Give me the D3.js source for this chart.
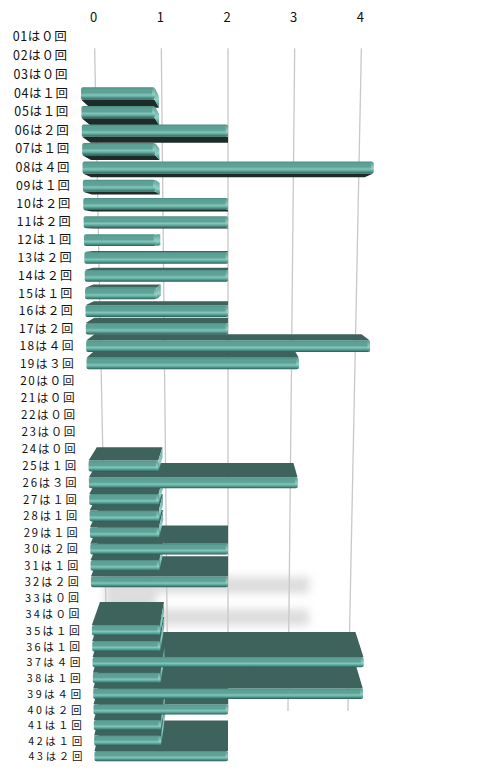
<!DOCTYPE html>
<html>
<head>
<meta charset="utf-8">
<script src="https://cdn.jsdelivr.net/npm/d3@7"></script>
<style>
    html, body { margin: 0; padding: 0; background: #fff; }
    svg { display: block; }
    text { font-family: "Noto Sans CJK JP", "Noto Sans", sans-serif; fill: #111; }
</style>
</head>
<body>
<svg id="chart" width="493" height="777"></svg>
<script>
// 01..43 and how many times each came up
const numbers = d3.range(1, 44).map(n => String(n).padStart(2, '0'));
const counts  = [0, 0, 0, 1, 1, 2, 1, 4, 1, 2,
                 2, 1, 2, 2, 1, 2, 2, 4, 3, 0,
                 0, 0, 0, 0, 1, 3, 1, 1, 1, 2,
                 1, 2, 0, 0, 1, 1, 4, 1, 4, 2,
                 1, 1, 2];
const ticks   = [0, 1, 2, 3, 4];
const zenkaku = ['０', '１', '２', '３', '４', '５', '６', '７', '８', '９'];
const shadowRows = [34, 35, 36, 37, 38];

const svg = d3.select('#chart');

// front plane scales (row 0), perspective squeezes them further down
const x  = d3.scaleLinear().domain([0, 4]).range([80, 376]);
const yr = d3.scaleLinear().domain([0, 42]).range([0, 42 * 18.99]);
const top0 = 37, tilt = 0.0026;
const cx = x(2);
const vp = { x: cx, y: 235 };          // vanishing point of the depth axis
const kBar = 0.941, kGrid = 0.9;       // depth of bar backs / back wall
const half = 0.33;                     // bar half thickness in rows

const persp = t => 1 / (1 + tilt * t);
const fp = (v, t) => [cx + (x(v) - cx) * persp(t), top0 + yr(t) * persp(t)];
const back = (p, k) => [vp.x + (p[0] - vp.x) * k, vp.y + (p[1] - vp.y) * k];
const rowStep = t => fp(0, t + 0.5)[1] - fp(0, t - 0.5)[1];
const line = d3.line();

const defs = svg.append('defs');
const grad = defs.append('linearGradient')
    .attr('id', 'front').attr('x1', 0).attr('y1', 0).attr('x2', 0).attr('y2', 1);
[[0, '#4b8b83'], [0.14, '#5c9f95'], [0.45, '#5ea398'], [0.62, '#80c7ba'],
 [0.76, '#62aa9e'], [0.9, '#407f77'], [1, '#2c5c56']]
    .forEach(([o, c]) => grad.append('stop').attr('offset', o).attr('stop-color', c));
const capGrad = defs.append('linearGradient')
    .attr('id', 'cap').attr('x1', 0).attr('y1', 0).attr('x2', 0).attr('y2', 1);
[[0, '#5e9f96'], [0.6, '#8fd2c5'], [1, '#3d7a72']]
    .forEach(([o, c]) => capGrad.append('stop').attr('offset', o).attr('stop-color', c));
defs.append('filter').attr('id', 'blur')
    .attr('x', -0.2).attr('y', -1).attr('width', 1.4).attr('height', 3)
    .append('feGaussianBlur').attr('stdDeviation', 4);

// faint shadow on the back wall behind the lower bars
const gridX = (v, t) => back(fp(v, t), kGrid)[0];
svg.append('g')
    .attr('filter', 'url(#blur)')
    .selectAll('path')
    .data(shadowRows.filter(i => counts[i] > 0))
    .join('path')
    .attr('d', i => {
        const t = i - 4.8, v = counts[i] * 0.83, h = 0.5;
        return line([
            [gridX(0, t - h), fp(0, t - h)[1]],
            [gridX(v, t - h), fp(v, t - h)[1]],
            [gridX(v, t + h), fp(v, t + h)[1]],
            [gridX(0, t + h), fp(0, t + h)[1]]
        ]) + 'Z';
    })
    .attr('fill', '#8c8c8c')
    .attr('fill-opacity', 0.3);

// gridlines on the back wall
svg.append('g')
    .selectAll('line')
    .data(ticks)
    .join('line')
    .each(function (v) {
        const a = back(fp(v, -0.5), kGrid), b = back(fp(v, 42.5), kGrid);
        d3.select(this).attr('x1', a[0]).attr('y1', a[1]).attr('x2', b[0]).attr('y2', b[1]);
    })
    .attr('stroke', '#c8c8c8')
    .attr('stroke-width', 1.3);

svg.append('g')
    .selectAll('text')
    .data(ticks)
    .join('text')
    .attr('x', v => back(fp(v, -0.5), kGrid)[0] - 1)
    .attr('y', 22)
    .attr('text-anchor', 'middle')
    .attr('font-size', 13)
    .text(d => d);

// bars
const bars = counts.map((c, i) => {
    const fTL = fp(0, i - half), fTR = fp(c, i - half);
    const fBL = fp(0, i + half), fBR = fp(c, i + half);
    return { i, c, fTL, fTR, fBL, fBR,
        bTL: back(fTL, kBar), bTR: back(fTR, kBar), bBL: back(fBL, kBar), bBR: back(fBR, kBar) };
}).filter(d => d.c > 0);

// depth faces first, farthest from the vanishing row first
const faces = [];
bars.forEach(d => {
    if (d.fBL[1] < vp.y) faces.push({ d, key: vp.y - d.fBL[1], fill: '#1d2b29',
        pts: [d.fBL, d.fBR, d.bBR, d.bBL] });
    else if (d.fTL[1] > vp.y) faces.push({ d, key: d.fTL[1] - vp.y, fill: '#3e625c',
        pts: [d.fTL, d.fTR, d.bTR, d.bTL] });
});
faces.sort((a, b) => b.key - a.key);

svg.append('g')
    .selectAll('path')
    .data(faces)
    .join('path')
    .attr('d', f => line(f.pts) + 'Z')
    .attr('fill', f => f.fill);

// end caps where the right side faces the viewer
svg.append('g')
    .selectAll('path')
    .data(bars.filter(d => d.fTR[0] < vp.x))
    .join('path')
    .attr('d', d => line([d.fTR, d.bTR, d.bBR, d.fBR]) + 'Z')
    .attr('fill', 'url(#cap)');

svg.append('g')
    .selectAll('rect')
    .data(bars)
    .join('rect')
    .attr('x', d => d.fTL[0])
    .attr('y', d => d.fTL[1])
    .attr('width', d => d.fTR[0] - d.fTL[0])
    .attr('height', d => d.fBL[1] - d.fTL[1])
    .attr('rx', 2)
    .attr('fill', 'url(#front)');

// round light edge on the bar ends
svg.append('g')
    .selectAll('rect')
    .data(bars)
    .join('rect')
    .attr('x', d => d.fTR[0] - 2.5)
    .attr('y', d => d.fTR[1] + 0.5)
    .attr('width', 2.5)
    .attr('height', d => d.fBR[1] - d.fTR[1] - 1)
    .attr('rx', 1.2)
    .attr('fill', 'url(#cap)');

// row labels, sized to their row so they never touch
svg.append('g')
    .selectAll('text')
    .data(numbers)
    .join('text')
    .attr('x', (n, i) => fp(-0.18, i)[0])
    .attr('y', (n, i) => fp(0, i)[1] + 4.3)
    .attr('text-anchor', 'end')
    .attr('font-size', (n, i) => Math.min(12.5, rowStep(i) * 0.68))
    .attr('textLength', 54)
    .attr('lengthAdjust', 'spacing')
    .text((n, i) => `${n}は${zenkaku[counts[i]]}回`);
</script>
</body>
</html>
